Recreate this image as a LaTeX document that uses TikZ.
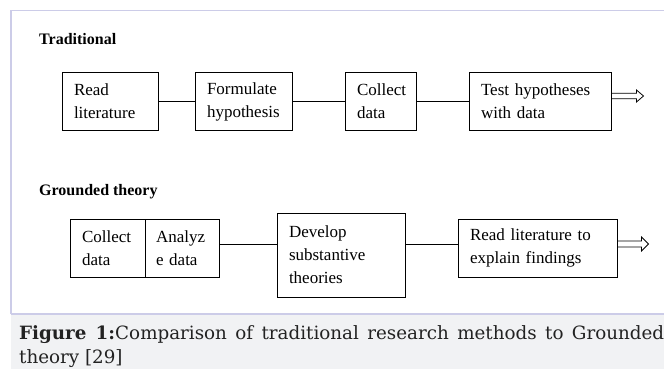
\documentclass[tikz,border=0pt]{standalone}
\usepackage{fontspec}
\setmainfont{Liberation Serif}
\newfontfamily\capfont{DejaVu Serif}
\usetikzlibrary{calc}
\definecolor{capbg}{HTML}{F1F2F4}
\definecolor{framec}{HTML}{CCCCE8}
\definecolor{captext}{HTML}{222222}
\begin{document}
\begin{tikzpicture}[x=1pt,y=-1pt,
  box/.style={draw=black, line width=1pt, inner xsep=12pt, inner ysep=0pt, align=left,
    font=\fontsize{17}{23}\selectfont},
  lbl/.style={font=\bfseries\fontsize{16}{19}\selectfont, anchor=base west, inner sep=0pt},
  conn/.style={draw=black, line width=0.9pt},
  harrow/.style={draw=black, line width=0.8pt, line join=miter},
  captxt/.style={font=\capfont\fontsize{18.3}{24}\selectfont, text=captext, anchor=base west, inner sep=0pt}]
\useasboundingbox (0,0) rectangle (664,369);
\fill[white] (0,0) rectangle (664,369);
\fill[capbg] (11,314) rectangle (664,369);
\draw[framec, line width=1.3pt] (11,314) -- (11,10.5) -- (664,10.5);
\draw[framec, line width=1.3pt] (11,314) -- (664,314);

% Traditional
\node[lbl] (tlab) at (39,45) {Traditional};
\node[box, text width=72pt, minimum height=57pt] (t1) at (110,101.5) {Read\\literature};
\node[box, text width=73pt, minimum height=57pt] (t2) at (243.5,101.5) {Formulate\\hypothesis};
\node[box, text width=47pt, minimum height=57pt] (t3) at (380.5,101.5) {Collect\\data};
\node[box, text width=118pt, minimum height=57pt] (t4) at (540,101.5) {Test hypotheses\\with data};
\draw[conn] (t1.east) -- (t2.west);
\draw[conn] (t2.east) -- (t3.west);
\draw[conn] (t3.east) -- (t4.west);
\draw[harrow] ($(t4.east)+(0,-8.2)$) -- ++(25,0) -- ++(0,-3.3) -- ++(7,6) -- ++(-7,6) -- ++(0,-3.3) -- ++(-25,0);

% Grounded theory
\node[lbl] (glab) at (39,195) {Grounded theory};
\node[box, text width=51pt, minimum height=58pt] (g1) at (107.5,248) {Collect\\data};
\node[box, inner xsep=11pt, text width=52pt, minimum height=58pt] (g2) at (182,248) {Analyz\\e data};
\node[box, text width=104pt, minimum height=84pt] (g3) at (341,255) {Develop\\substantive\\theories};
\node[box, text width=135pt, minimum height=58pt] (g4) at (537.5,248) {Read literature to\\explain findings};
\coordinate (c1) at ($(g2.east)+(0,-4)$);
\draw[conn] (c1) -- (c1 -| g3.west);
\draw[conn] (c1 -| g3.east) -- (c1 -| g4.west);
\draw[harrow] ($(g4.east)+(0,-7)$) -- ++(24,0) -- ++(0,-4) -- ++(7,7) -- ++(-7,7) -- ++(0,-4) -- ++(-24,0);

% Caption
\node[captxt] (cap1) at (19,339.5) {\makebox[645pt][s]{\textbf{Figure 1:}Comparison of traditional research methods to Grounded}};
\node[captxt] (cap2) at (19,363.5) {theory [29]};
\end{tikzpicture}
\end{document}
